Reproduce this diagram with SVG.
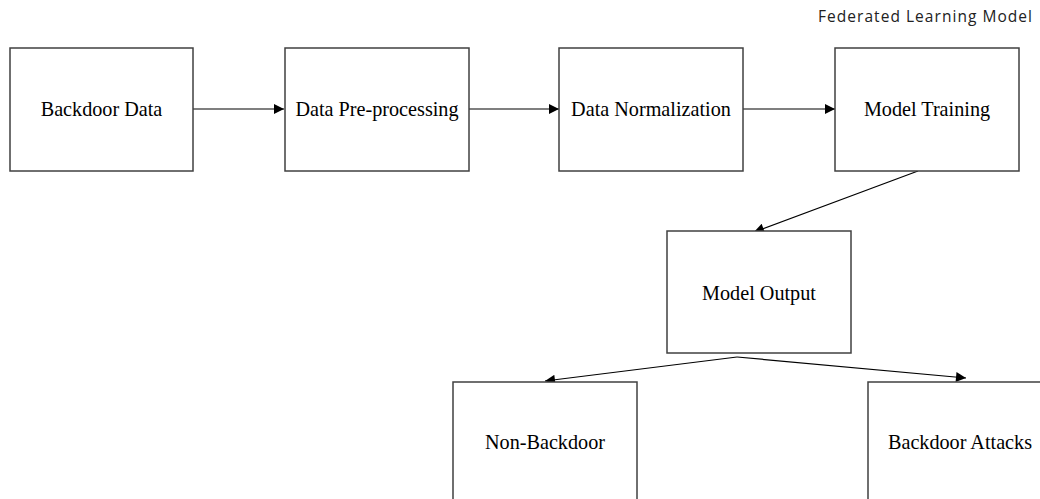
<svg xmlns="http://www.w3.org/2000/svg" width="1040" height="499" viewBox="0 0 1040 499">
<style>
.box{fill:#fff;stroke:#404040;stroke-width:1.5}
.lbl{font-family:"Liberation Serif","Times New Roman",serif;font-size:20.2px;fill:#000;text-anchor:middle}
.edge{stroke:#000;stroke-width:1.2;fill:none;marker-end:url(#ah)}
.title{font-family:"Open Sans","Liberation Sans",sans-serif;font-size:15.5px;fill:#222}
</style>
<defs>
<marker id="ah" viewBox="0 0 10 10" refX="10" refY="5" markerWidth="12" markerHeight="10" markerUnits="userSpaceOnUse" orient="auto">
<path d="M0,0 L10,5 L0,10 Z" fill="#000"/>
</marker>
</defs>
<rect width="1040" height="499" fill="#fff"/>
<text class="title" x="818" y="22" textLength="214" lengthAdjust="spacing">Federated Learning Model</text>
<g id="connectors">
<line class="edge" x1="193" y1="109" x2="284" y2="109"/>
<line class="edge" x1="469" y1="109" x2="559" y2="109"/>
<line class="edge" x1="743" y1="109" x2="835" y2="109"/>
<line class="edge" x1="918" y1="171" x2="754" y2="232"/>
<line class="edge" x1="737" y1="357" x2="545" y2="381"/>
<line class="edge" x1="737" y1="357" x2="966" y2="378"/>
</g>
<g id="backdoor-data"><rect class="box" x="10" y="48" width="183" height="123"/><text class="lbl" x="101.5" y="116">Backdoor Data</text></g>
<g id="data-preprocessing"><rect class="box" x="285" y="48" width="184" height="123"/><text class="lbl" x="377" y="116">Data Pre-processing</text></g>
<g id="data-normalization"><rect class="box" x="559" y="48" width="184" height="123"/><text class="lbl" x="651" y="116">Data Normalization</text></g>
<g id="model-training"><rect class="box" x="835" y="48" width="184" height="123"/><text class="lbl" x="927" y="116">Model Training</text></g>
<g id="model-output"><rect class="box" x="667" y="231" width="184" height="122"/><text class="lbl" x="759" y="300">Model Output</text></g>
<g id="non-backdoor"><rect class="box" x="453" y="382" width="184" height="130"/><text class="lbl" x="545" y="449">Non-Backdoor</text></g>
<g id="backdoor-attacks"><rect class="box" x="868" y="382" width="184" height="130"/><text class="lbl" x="960" y="449">Backdoor Attacks</text></g>
</svg>
